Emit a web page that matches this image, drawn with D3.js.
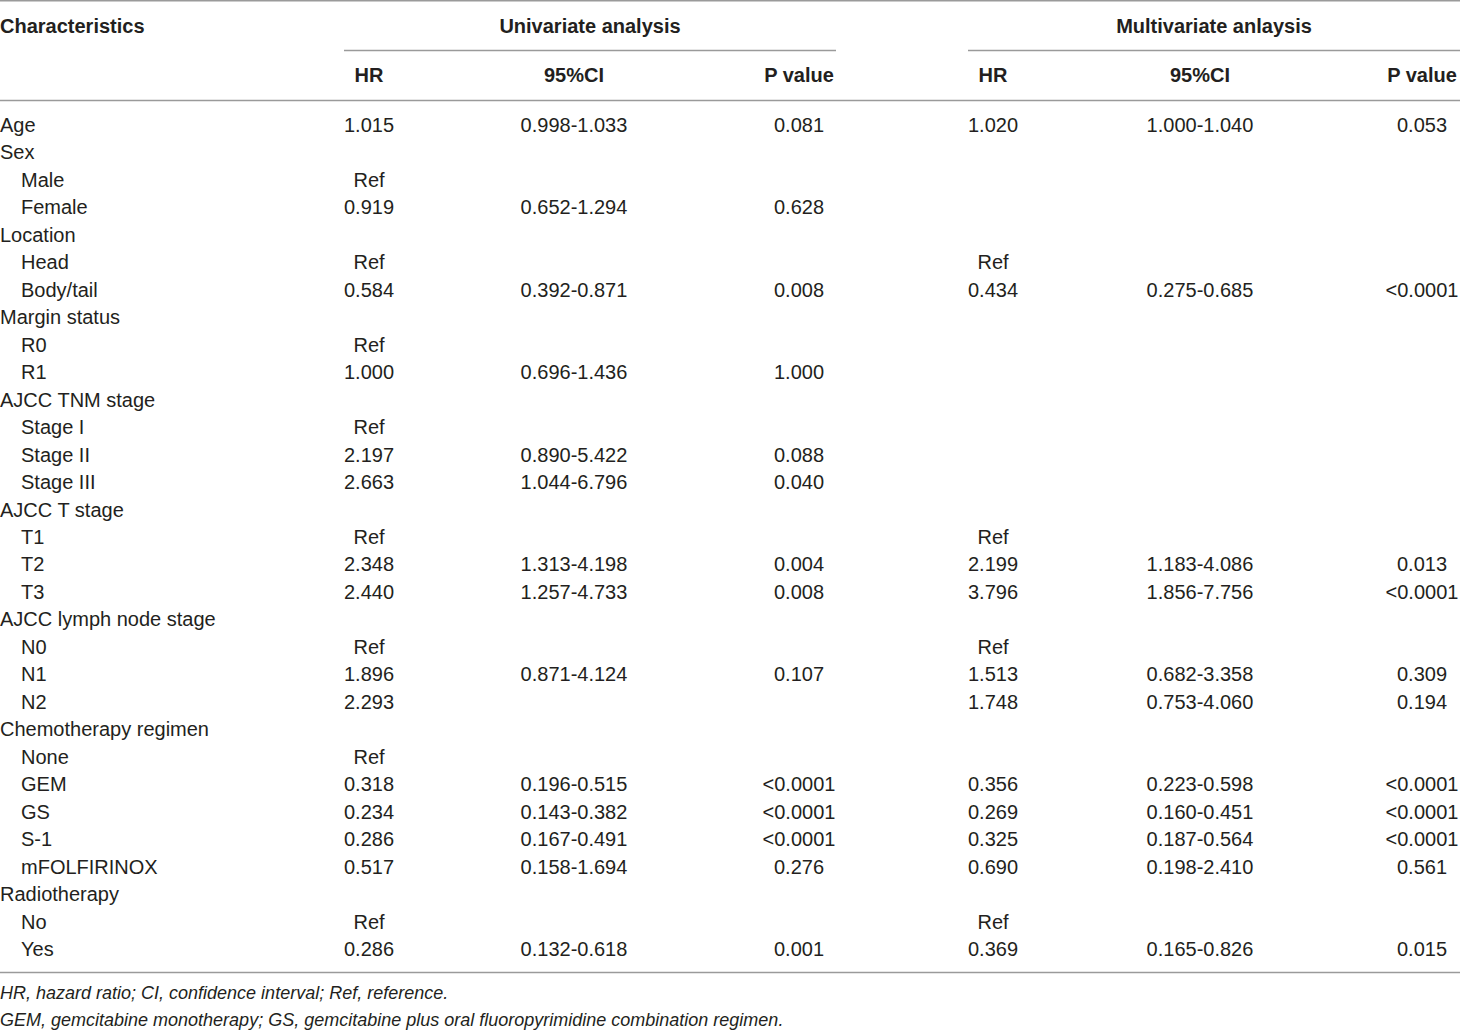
<!DOCTYPE html>
<html>
<head>
<meta charset="utf-8">
<script src="https://cdn.jsdelivr.net/npm/d3@7"></script>
<style>
  html, body { margin: 0; padding: 0; background: #fff; }
  text { font-family: "Liberation Sans", Arial, Helvetica, sans-serif; fill: #231f20; }
</style>
</head>
<body>
<div id="table"></div>
<script>
// row labels, true = indented sub-level
var rowLabels = ["Age","Sex","Male","Female","Location","Head","Body/tail","Margin status","R0","R1",
  "AJCC TNM stage","Stage I","Stage II","Stage III","AJCC T stage","T1","T2","T3",
  "AJCC lymph node stage","N0","N1","N2","Chemotherapy regimen","None","GEM","GS","S-1","mFOLFIRINOX",
  "Radiotherapy","No","Yes"];
var rowIndent = [0,0,1,1,0,1,1,0,1,1, 0,1,1,1,0,1,1,1, 0,1,1,1,0,1,1,1,1,1, 0,1,1];

var uniHR = ["1.015","","Ref","0.919","","Ref","0.584","","Ref","1.000",
  "","Ref","2.197","2.663","","Ref","2.348","2.440",
  "","Ref","1.896","2.293","","Ref","0.318","0.234","0.286","0.517",
  "","Ref","0.286"];
var uniCI = ["0.998-1.033","","","0.652-1.294","","","0.392-0.871","","","0.696-1.436",
  "","","0.890-5.422","1.044-6.796","","","1.313-4.198","1.257-4.733",
  "","","0.871-4.124","","","","0.196-0.515","0.143-0.382","0.167-0.491","0.158-1.694",
  "","","0.132-0.618"];
var uniP = ["0.081","","","0.628","","","0.008","","","1.000",
  "","","0.088","0.040","","","0.004","0.008",
  "","","0.107","","","","<0.0001","<0.0001","<0.0001","0.276",
  "","","0.001"];

var multiHR = ["1.020","","","","","Ref","0.434","","","",
  "","","","","","Ref","2.199","3.796",
  "","Ref","1.513","1.748","","","0.356","0.269","0.325","0.690",
  "","Ref","0.369"];
var multiCI = ["1.000-1.040","","","","","","0.275-0.685","","","",
  "","","","","","","1.183-4.086","1.856-7.756",
  "","","0.682-3.358","0.753-4.060","","","0.223-0.598","0.160-0.451","0.187-0.564","0.198-2.410",
  "","","0.165-0.826"];
var multiP = ["0.053","","","","","","<0.0001","","","",
  "","","","","","","0.013","<0.0001",
  "","","0.309","0.194","","","<0.0001","<0.0001","<0.0001","0.561",
  "","","0.015"];

var groupHeaders = ["Univariate analysis","Multivariate anlaysis"];
var subHeaders = ["HR","95%CI","P value"];
var footnotes = ["HR, hazard ratio; CI, confidence interval; Ref, reference.",
  "GEM, gemcitabine monotherapy; GS, gemcitabine plus oral fluoropyrimidine combination regimen."];

var width = 1460, height = 1030;
var svg = d3.select("#table").append("svg")
  .attr("width", width).attr("height", height);

// row positions (centre line of each row)
var y = d3.scaleLinear().domain([0, rowLabels.length - 1]).range([125, 949]);
var baseOff = 7;

// column centres
var colX = [369, 574, 799, 993, 1200, 1422];
var groupSpan = [[344, 836], [968, 1460]];

var ruleColor = "#9a9a9a";
function rule(x1, x2, yy) {
  svg.append("line").attr("x1", x1).attr("x2", x2).attr("y1", yy).attr("y2", yy)
    .attr("stroke", ruleColor).attr("stroke-width", 1.4);
}
rule(0, width, 0.8);
rule(0, width, 100.5);
rule(0, width, 972.5);
groupSpan.forEach(function(s){ rule(s[0], s[1], 50.5); });

// header
svg.append("text").attr("x", 0).attr("y", 26 + baseOff)
  .style("font-weight", "bold").style("font-size", "20px").text("Characteristics");
svg.selectAll(".grp").data(groupHeaders).enter().append("text")
  .attr("class", "grp")
  .attr("x", function(d, i){ return (groupSpan[i][0] + groupSpan[i][1]) / 2; })
  .attr("y", 26 + baseOff)
  .attr("text-anchor", "middle")
  .style("font-weight", "bold").style("font-size", "20px")
  .text(function(d){ return d; });
svg.selectAll(".sub").data(subHeaders.concat(subHeaders)).enter().append("text")
  .attr("class", "sub")
  .attr("x", function(d, i){ return colX[i]; })
  .attr("y", 75 + baseOff)
  .attr("text-anchor", "middle")
  .style("font-weight", "bold").style("font-size", "20px")
  .text(function(d){ return d; });

// body
var rows = svg.selectAll(".row").data(rowLabels).enter().append("g")
  .attr("class", "row")
  .attr("transform", function(d, i){ return "translate(0," + (y(i) + baseOff) + ")"; });

rows.append("text")
  .attr("x", function(d, i){ return rowIndent[i] ? 21 : 0; })
  .style("font-size", "20px")
  .text(function(d){ return d; });

var columns = [uniHR, uniCI, uniP, multiHR, multiCI, multiP];
columns.forEach(function(col, c) {
  rows.append("text")
    .attr("x", colX[c])
    .attr("text-anchor", "middle")
    .style("font-size", "20px")
    .text(function(d, i){ return col[i]; });
});

// footnotes
svg.selectAll(".foot").data(footnotes).enter().append("text")
  .attr("class", "foot")
  .attr("x", 0)
  .attr("y", function(d, i){ return 993 + 6 + i * 27; })
  .style("font-style", "italic").style("font-size", "18px")
  .text(function(d){ return d; });
</script>
</body>
</html>
